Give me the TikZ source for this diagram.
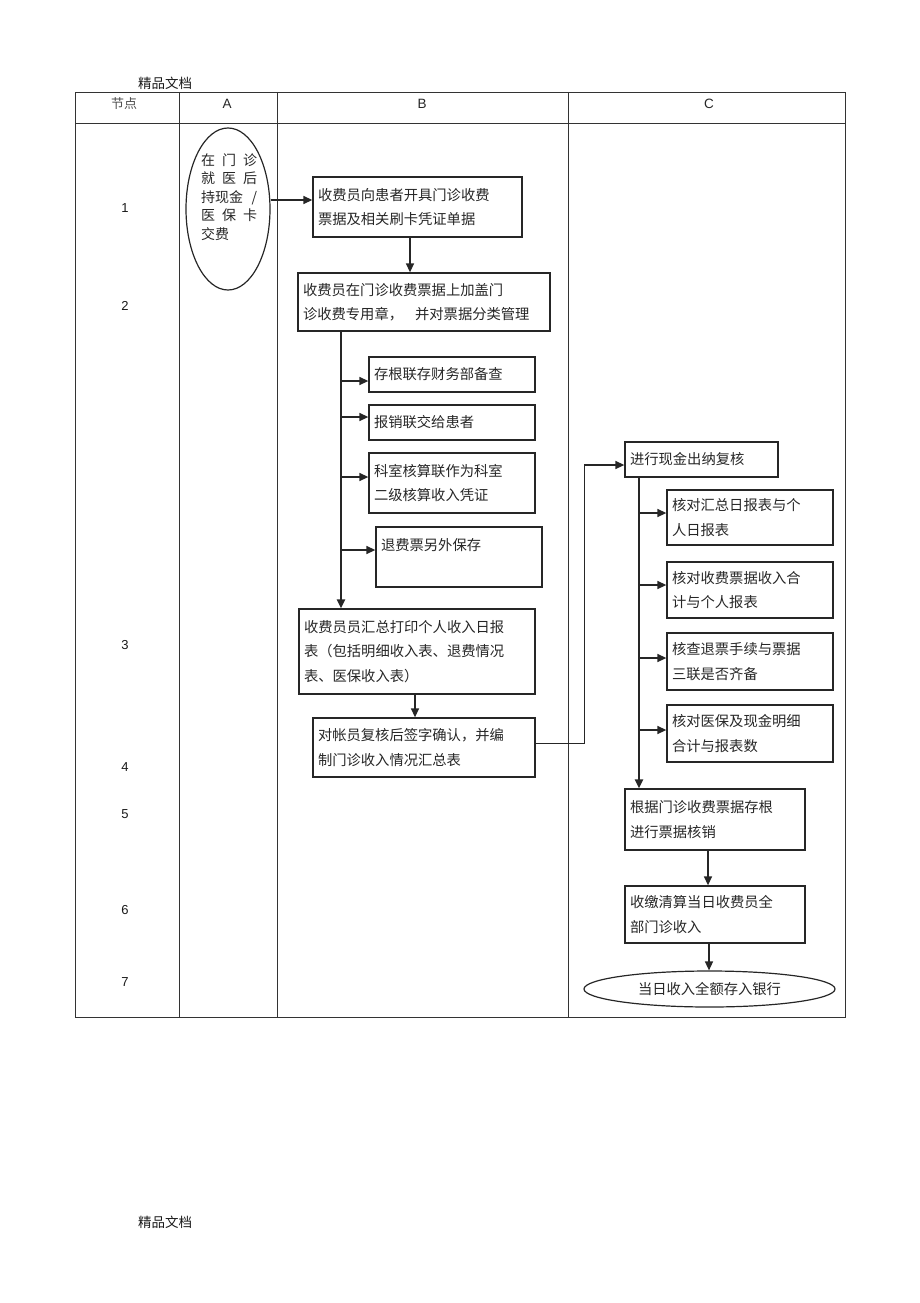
\documentclass[tikz,border=0pt]{standalone}
\usepackage{fontspec}
\setmainfont{Liberation Sans}
\newfontfamily\cjk{Noto Sans CJK SC}
\usetikzlibrary{arrows.meta,shapes.geometric}

\tikzset{
  box/.style={draw=black!85, line width=1.3pt, rectangle, inner xsep=5pt, inner ysep=0pt,
    align=left, font=\cjk\fontsize{14.3}{24.5}\selectfont, text=black!85},
  arr/.style={draw=black!85, line width=1.4pt, -{Triangle[length=9pt,width=8pt]}},
  trunk/.style={arr, line width=2.2pt},
  gridline/.style={draw=black!80, line width=0.9pt},
  hdr/.style={font=\fontsize{13.5}{15}\selectfont, text=black!85},
  hdrcjk/.style={font=\cjk\fontsize{13}{15}\selectfont, text=black!70},
  rownum/.style={font=\fontsize{13}{15}\selectfont, text=black!90},
  marktext/.style={font=\cjk\fontsize{13.5}{15}\selectfont, text=black!90},
}

\newcommand\mkbox[6]{%
  \pgfmathsetmacro\bxw{#4-#2}%
  \pgfmathsetmacro\bxh{#5-#3}%
  \pgfmathsetmacro\bxt{#4-#2-10}%
  \node[box, minimum width=\bxw pt, minimum height=\bxh pt, text width=\bxt pt]
    (#1) at ({(#2+#4)/2},{(#3+#5)/2}) {#6};}

\begin{document}
\begin{tikzpicture}[x=1pt,y=-1pt]
\useasboundingbox (0,0) rectangle (920,1303);

% page marks
\node[marktext] (mtop) at (165,83) {精品文档};
\node[marktext] (mbot) at (165,1222) {精品文档};

% table grid
\draw[gridline] (75,92) rectangle (845,1017);
\draw[gridline] (75,123) -- (845,123);
\draw[gridline] (179,92) -- (179,1017);
\draw[gridline] (277,92) -- (277,1017);
\draw[gridline] (568,92) -- (568,1017);

% headers
\node[hdrcjk] (h0) at (124,104) {节点};
\node[hdr] (hA) at (227,104) {A};
\node[hdr] (hB) at (422,104) {B};
\node[hdr] (hC) at (709,104) {C};

% row numbers
\node[rownum] (r1) at (125,208) {1};
\node[rownum] (r2) at (125,306) {2};
\node[rownum] (r3) at (125,645) {3};
\node[rownum] (r4) at (125,767) {4};
\node[rownum] (r5) at (125,814) {5};
\node[rownum] (r6) at (125,910) {6};
\node[rownum] (r7) at (125,982) {7};

% column A ellipse
\node[draw=black!85, line width=1.2pt, ellipse, minimum width=84pt, minimum height=162pt, inner sep=0pt] (ea) at (228,209) {};
\node[align=left, inner sep=0pt, font=\cjk\fontsize{14}{18.5}\selectfont, text=black!85] (eat) at (229,197)
  {\makebox[56pt][l]{在\hfill 门\hfill 诊}\\
   \makebox[56pt][l]{就\hfill 医\hfill 后}\\
   \makebox[56pt][l]{持现金\hfill /}\\
   \makebox[56pt][l]{医\hfill 保\hfill 卡}\\
   \makebox[56pt][l]{交费\hfill}};

% column B
\mkbox{b1}{313}{177}{522}{237}{收费员向患者开具门诊收费\\票据及相关刷卡凭证单据}
\mkbox{b2}{298}{273}{550}{331}{收费员在门诊收费票据上加盖门\\诊收费专用章，\hspace{12pt}并对票据分类管理}
\mkbox{bb1}{369}{357}{535}{392}{存根联存财务部备查}
\mkbox{bb2}{369}{405}{535}{440}{报销联交给患者}
\mkbox{bb3}{369}{453}{535}{513}{科室核算联作为科室\\二级核算收入凭证}
\mkbox{bb4}{376}{527}{542}{587}{退费票另外保存\\\mbox{}}
\mkbox{b3}{299}{609}{535}{694}{收费员员汇总打印个人收入日报\\表（包括明细收入表、退费情况\\表、医保收入表）}
\mkbox{b4}{313}{718}{535}{777}{对帐员复核后签字确认，并编\\制门诊收入情况汇总表}

% column C
\mkbox{c1}{625}{442}{778}{477}{进行现金出纳复核}
\mkbox{cc1}{667}{490}{833}{545}{核对汇总日报表与个\\人日报表}
\mkbox{cc2}{667}{562}{833}{618}{核对收费票据收入合\\计与个人报表}
\mkbox{cc3}{667}{633}{833}{690}{核查退票手续与票据\\三联是否齐备}
\mkbox{cc4}{667}{705}{833}{762}{核对医保及现金明细\\合计与报表数}
\mkbox{c5}{625}{789}{805}{850}{根据门诊收费票据存根\\进行票据核销}
\mkbox{c6}{625}{886}{805}{943}{收缴清算当日收费员全\\部门诊收入}
\node[draw=black!85, line width=1.2pt, ellipse, minimum width=251pt, minimum height=36pt, inner sep=0pt,
  font=\cjk\fontsize{14.3}{16}\selectfont, text=black!85] (c7) at (709.5,989) {当日收入全额存入银行};

% connector x positions
\coordinate (tB) at (341,0);
\coordinate (tC) at (639,0);
\coordinate (xb1) at (410,0);
\coordinate (xb3) at (415,0);
\coordinate (xc5) at (708,0);
\coordinate (xc6) at (709,0);

% connectors
\draw[arr] ([yshift=9pt]ea.east) -- ([yshift=9pt]ea.east -| b1.west);
\draw[arr] (b1.south -| xb1) -- (b2.north -| xb1);
\draw[trunk] (b2.south -| tB) -- (b3.north -| tB);
\draw[arr] ([yshift=-6.5pt]tB |- bb1.west) -- ([yshift=-6.5pt]bb1.west);
\draw[arr] ([yshift=5.5pt]tB |- bb2.west) -- ([yshift=5.5pt]bb2.west);
\draw[arr] ([yshift=6pt]tB |- bb3.west) -- ([yshift=6pt]bb3.west);
\draw[arr] ([yshift=7pt]tB |- bb4.west) -- ([yshift=7pt]bb4.west);
\draw[arr] (b3.south -| xb3) -- (b4.north -| xb3);
\draw[arr] ([yshift=4pt]b4.east) -- ++(49,0) |- ([yshift=-5.5pt]c1.west);

\draw[trunk] (c1.south -| tC) -- (c5.north -| tC);
\draw[arr] ([yshift=4.5pt]tC |- cc1.west) -- ([yshift=4.5pt]cc1.west);
\draw[arr] ([yshift=5pt]tC |- cc2.west) -- ([yshift=5pt]cc2.west);
\draw[arr] ([yshift=3.5pt]tC |- cc3.west) -- ([yshift=3.5pt]cc3.west);
\draw[arr] ([yshift=3.5pt]tC |- cc4.west) -- ([yshift=3.5pt]cc4.west);
\draw[arr] (c5.south -| xc5) -- (c6.north -| xc5);
\draw[arr] (c6.south -| xc6) -- (c7.north -| xc6);
\end{tikzpicture}
\end{document}
